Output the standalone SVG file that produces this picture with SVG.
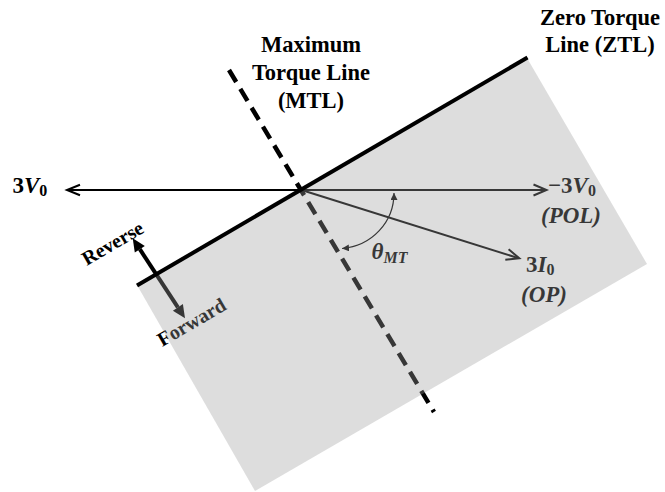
<svg xmlns="http://www.w3.org/2000/svg" width="665" height="492" viewBox="0 0 665 492">
<defs>
<style>
.lbl{font-family:"Liberation Serif","Times New Roman",serif;font-weight:bold;font-size:22.5px;fill:#000;text-anchor:middle}
.math{font-family:"Liberation Serif","Times New Roman",serif;font-weight:bold;font-size:23px;fill:#000}
.dir{font-family:"Liberation Serif","Times New Roman",serif;font-weight:bold;font-size:20px;fill:#000;text-anchor:middle}
.thin{fill:none;stroke:#000;stroke-width:2}
.chev{fill:none;stroke:#000;stroke-width:2;stroke-linejoin:miter}
</style>
<marker id="ah" viewBox="0 0 10 10" refX="10" refY="5" markerWidth="7" markerHeight="7" markerUnits="userSpaceOnUse" orient="auto-start-reverse">
<path d="M0,0 L10,5 L0,10 z" fill="#000"/>
</marker>
</defs>
<g id="connectors">
<line id="mtl" x1="229" y1="70" x2="434" y2="412" stroke="#000" stroke-width="4.5" stroke-dasharray="14 8"/>
<line class="thin" x1="68" y1="190" x2="545" y2="190"/>
<path class="chev" d="M80,184.8 L67,190 L80,195.2"/>
<path class="chev" d="M533.5,184.5 L546.5,190 L533.5,195.5"/>
<line class="thin" x1="301.5" y1="190" x2="518" y2="258"/>
<path class="chev" d="M508.6,249.2 L519.3,258.3 L505.3,259.7"/>
<path d="M394,193 C394,222 372,246 342,248.5" fill="none" stroke="#000" stroke-width="1.2" marker-start="url(#ah)" marker-end="url(#ah)"/>
<g id="dir-arrow">
<line x1="139.8" y1="249.2" x2="177.9" y2="307.4" stroke="#000" stroke-width="4"/>
<path d="M132.7,238.3 L144.8,245.9 L134.8,252.5 z" fill="#000"/>
<path d="M185,318.3 L182.9,304.1 L172.9,310.7 z" fill="#000"/>
</g>
</g>
<g id="labels">
<text class="math" x="12.5" y="193">3<tspan font-style="italic">V</tspan><tspan font-size="16" dy="3">0</tspan></text>
<text class="math" x="548" y="193">−3<tspan font-style="italic">V</tspan><tspan font-size="16" dy="3">0</tspan></text>
<text class="math" x="541" y="223" font-style="italic">(POL)</text>
<text class="math" x="526" y="272">3<tspan font-style="italic">I</tspan><tspan font-size="16" dy="3">0</tspan></text>
<text class="math" x="521" y="302" font-style="italic">(OP)</text>
<text class="math" x="371.5" y="259" font-style="italic" font-size="22">θ<tspan font-size="16" dy="4">MT</tspan></text>
<text class="dir" transform="translate(116,249) rotate(-30.2)">Reverse</text>
<text class="dir" transform="translate(195,328) rotate(-30.2)">Forward</text>
</g>
<g id="forward-region">
<polygon points="137,285 527,58 647,264 255,491" fill="rgb(158,158,158)" fill-opacity="0.35"/>
</g>
<g id="ztl-line">
<line x1="137" y1="285.5" x2="527.5" y2="57.5" stroke="#000" stroke-width="4"/>
</g>
<g id="mtl-label">
<text class="lbl" x="311" y="52">Maximum</text>
<text class="lbl" x="311" y="80">Torque Line</text>
<text class="lbl" x="311" y="108">(MTL)</text>
</g>
<g id="ztl-label">
<text class="lbl" x="600" y="25">Zero Torque</text>
<text class="lbl" x="600" y="52">Line (ZTL)</text>
</g>
</svg>
